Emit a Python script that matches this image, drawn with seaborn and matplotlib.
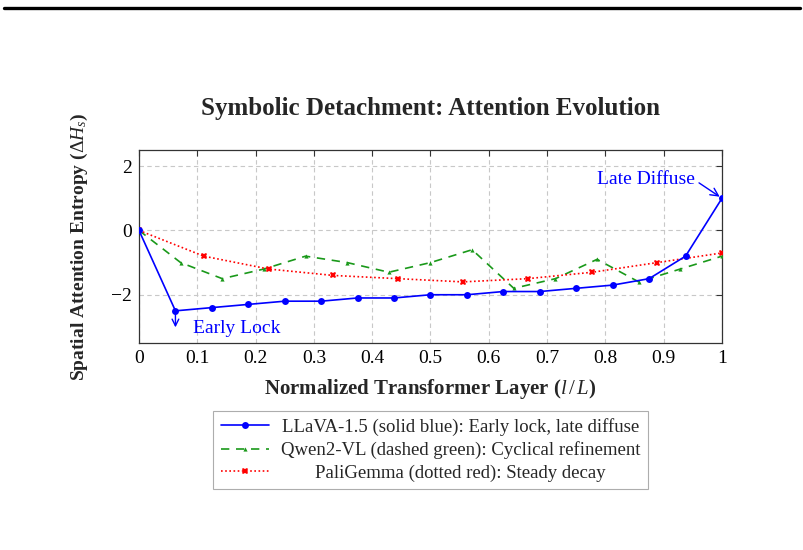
import numpy as np
import pandas as pd
import matplotlib
matplotlib.use("Agg")
import matplotlib.pyplot as plt
from matplotlib.lines import Line2D
from matplotlib.offsetbox import TextArea
from matplotlib.transforms import Bbox
import seaborn as sns

# ---- data ----
llava_x = [i / 16 for i in range(17)]
llava_y = [0, -2.5, -2.4, -2.3, -2.2, -2.2, -2.1, -2.1, -2.0, -2.0, -1.9, -1.9, -1.8, -1.7, -1.5, -0.8, 1.0]
qwen_x = [i / 14 for i in range(15)]
qwen_y = [0, -1.0, -1.5, -1.2, -0.8, -1.0, -1.3, -1.0, -0.6, -1.8, -1.5, -0.9, -1.6, -1.2, -0.8]
pali_x = [i / 9 for i in range(10)]
pali_y = [0, -0.8, -1.2, -1.4, -1.5, -1.6, -1.5, -1.3, -1.0, -0.7]

labels = [
    "LLaVA-1.5 (solid blue): Early lock, late diffuse",
    "Qwen2-VL (dashed green): Cyclical refinement",
    "PaliGemma (dotted red): Steady decay",
]
x_ticks = [0, 0.1, 0.2, 0.3, 0.4, 0.5, 0.6, 0.7, 0.8, 0.9, 1]
x_ticklabels = ["0", "0.1", "0.2", "0.3", "0.4", "0.5", "0.6", "0.7", "0.8", "0.9", "1"]
y_ticks = [-2, 0, 2]
y_ticklabels = ["\u22122", "0", "2"]

sns.set_theme(style="white")
plt.rcParams["font.family"] = ["Liberation Serif", "DejaVu Serif"]
plt.rcParams["mathtext.fontset"] = "custom"
plt.rcParams["mathtext.it"] = "Liberation Serif:italic"
plt.rcParams["mathtext.rm"] = "Liberation Serif"
plt.rcParams["mathtext.bf"] = "Liberation Serif:bold"

fig = plt.figure(figsize=(8.04, 5.5), dpi=100)
ax = fig.add_axes([139 / 804, 1 - 343 / 550, (722 - 139) / 804, (343 - 150) / 550])

df1 = pd.DataFrame({"x": llava_x, "y": llava_y})
df2 = pd.DataFrame({"x": qwen_x, "y": qwen_y})
df3 = pd.DataFrame({"x": pali_x, "y": pali_y})

blue = "#0000ff"
green = "#1a991a"
red = "#ff0000"

sns.lineplot(data=df1, x="x", y="y", ax=ax, color=blue, lw=1.2, marker="o",
             markersize=5, markeredgewidth=0, label=labels[0], zorder=5)
sns.lineplot(data=df2, x="x", y="y", ax=ax, color=green, lw=1.2, marker="^",
             markersize=3, markeredgewidth=0, label=labels[1], zorder=4)
ax.lines[-1].set_dashes([5, 4])
sns.lineplot(data=df3, x="x", y="y", ax=ax, color=red, lw=1.2, marker="X",
             markersize=5, markeredgewidth=0, label=labels[2], zorder=4)
ax.lines[-1].set_linestyle((0, (1, 1.5)))

ax.set_xlim(0, 1)
ax.set_ylim(-3.5, 2.5)
ax.set_xticks(x_ticks)
ax.set_xticklabels(x_ticklabels)
ax.set_yticks(y_ticks)
ax.set_yticklabels(y_ticklabels)
ax.tick_params(axis="both", labelsize=14, direction="in", length=4, width=0.8,
               colors="#333333", labelcolor="black", top=True, right=True, pad=5)
ax.grid(True, linestyle=(0, (4, 3)), color="#c8c8c8", lw=0.8)
for s in ax.spines.values():
    s.set_color("#333333")
    s.set_linewidth(0.9)
    s.set_visible(True)

ax.set_title("Symbolic Detachment: Attention Evolution", fontsize=18,
             fontweight="bold", pad=25)
ax.set_xlabel(r"Normalized Transformer Layer ($l\,/\,L$)", fontsize=15,
              fontweight="bold", labelpad=7)
ax.set_ylabel(r"Spatial Attention Entropy ($\Delta H_s$)", fontsize=14,
              fontweight="bold", labelpad=15)

# annotations
ax.annotate("", xy=(llava_x[1], -3.1), xytext=(llava_x[1], llava_y[1]),
            arrowprops=dict(arrowstyle="->", color=blue, lw=1.0))
ax.text(0.093, -3.05, "Early Lock", color=blue, fontsize=14, va="center", ha="left")
ax.annotate("Late Diffuse", xy=(llava_x[-1], llava_y[-1]), xytext=(0.953, 1.57),
            color=blue, fontsize=14, ha="right", va="center",
            arrowprops=dict(arrowstyle="->", color=blue, lw=1.0,
                            shrinkA=1, shrinkB=2, relpos=(1.0, 0.5)))

leg = ax.legend(loc="upper center", bbox_to_anchor=(0.5, -0.35), fontsize=13.5,
                frameon=True, fancybox=False, edgecolor="#999999",
                handlelength=2.6, borderpad=0.4, labelspacing=0.28,
                handletextpad=0.6, borderaxespad=0)
leg.get_frame().set_linewidth(0.8)

# center legend texts within the column (handles stay at left)
title_box = getattr(leg, "_legend_title_box", None)
tas = [a for a in leg.findobj(lambda a: isinstance(a, TextArea)) if a is not title_box]
orig = {id(ta): ta.get_bbox for ta in tas}


def make_bbox(f):
    def gb(renderer):
        b = f(renderer)
        W = max(o(renderer).width for o in orig.values())
        return Bbox.from_bounds(b.x0 - (W - b.width) / 2, b.y0, W, b.height)
    return gb


for ta in tas:
    ta.get_bbox = make_bbox(orig[id(ta)])

fig.add_artist(Line2D([4 / 804, 800 / 804], [1 - 7.5 / 550, 1 - 7.5 / 550],
                      color="black", lw=2.4, transform=fig.transFigure))

fig.savefig("out.png", dpi=100, facecolor="white")
